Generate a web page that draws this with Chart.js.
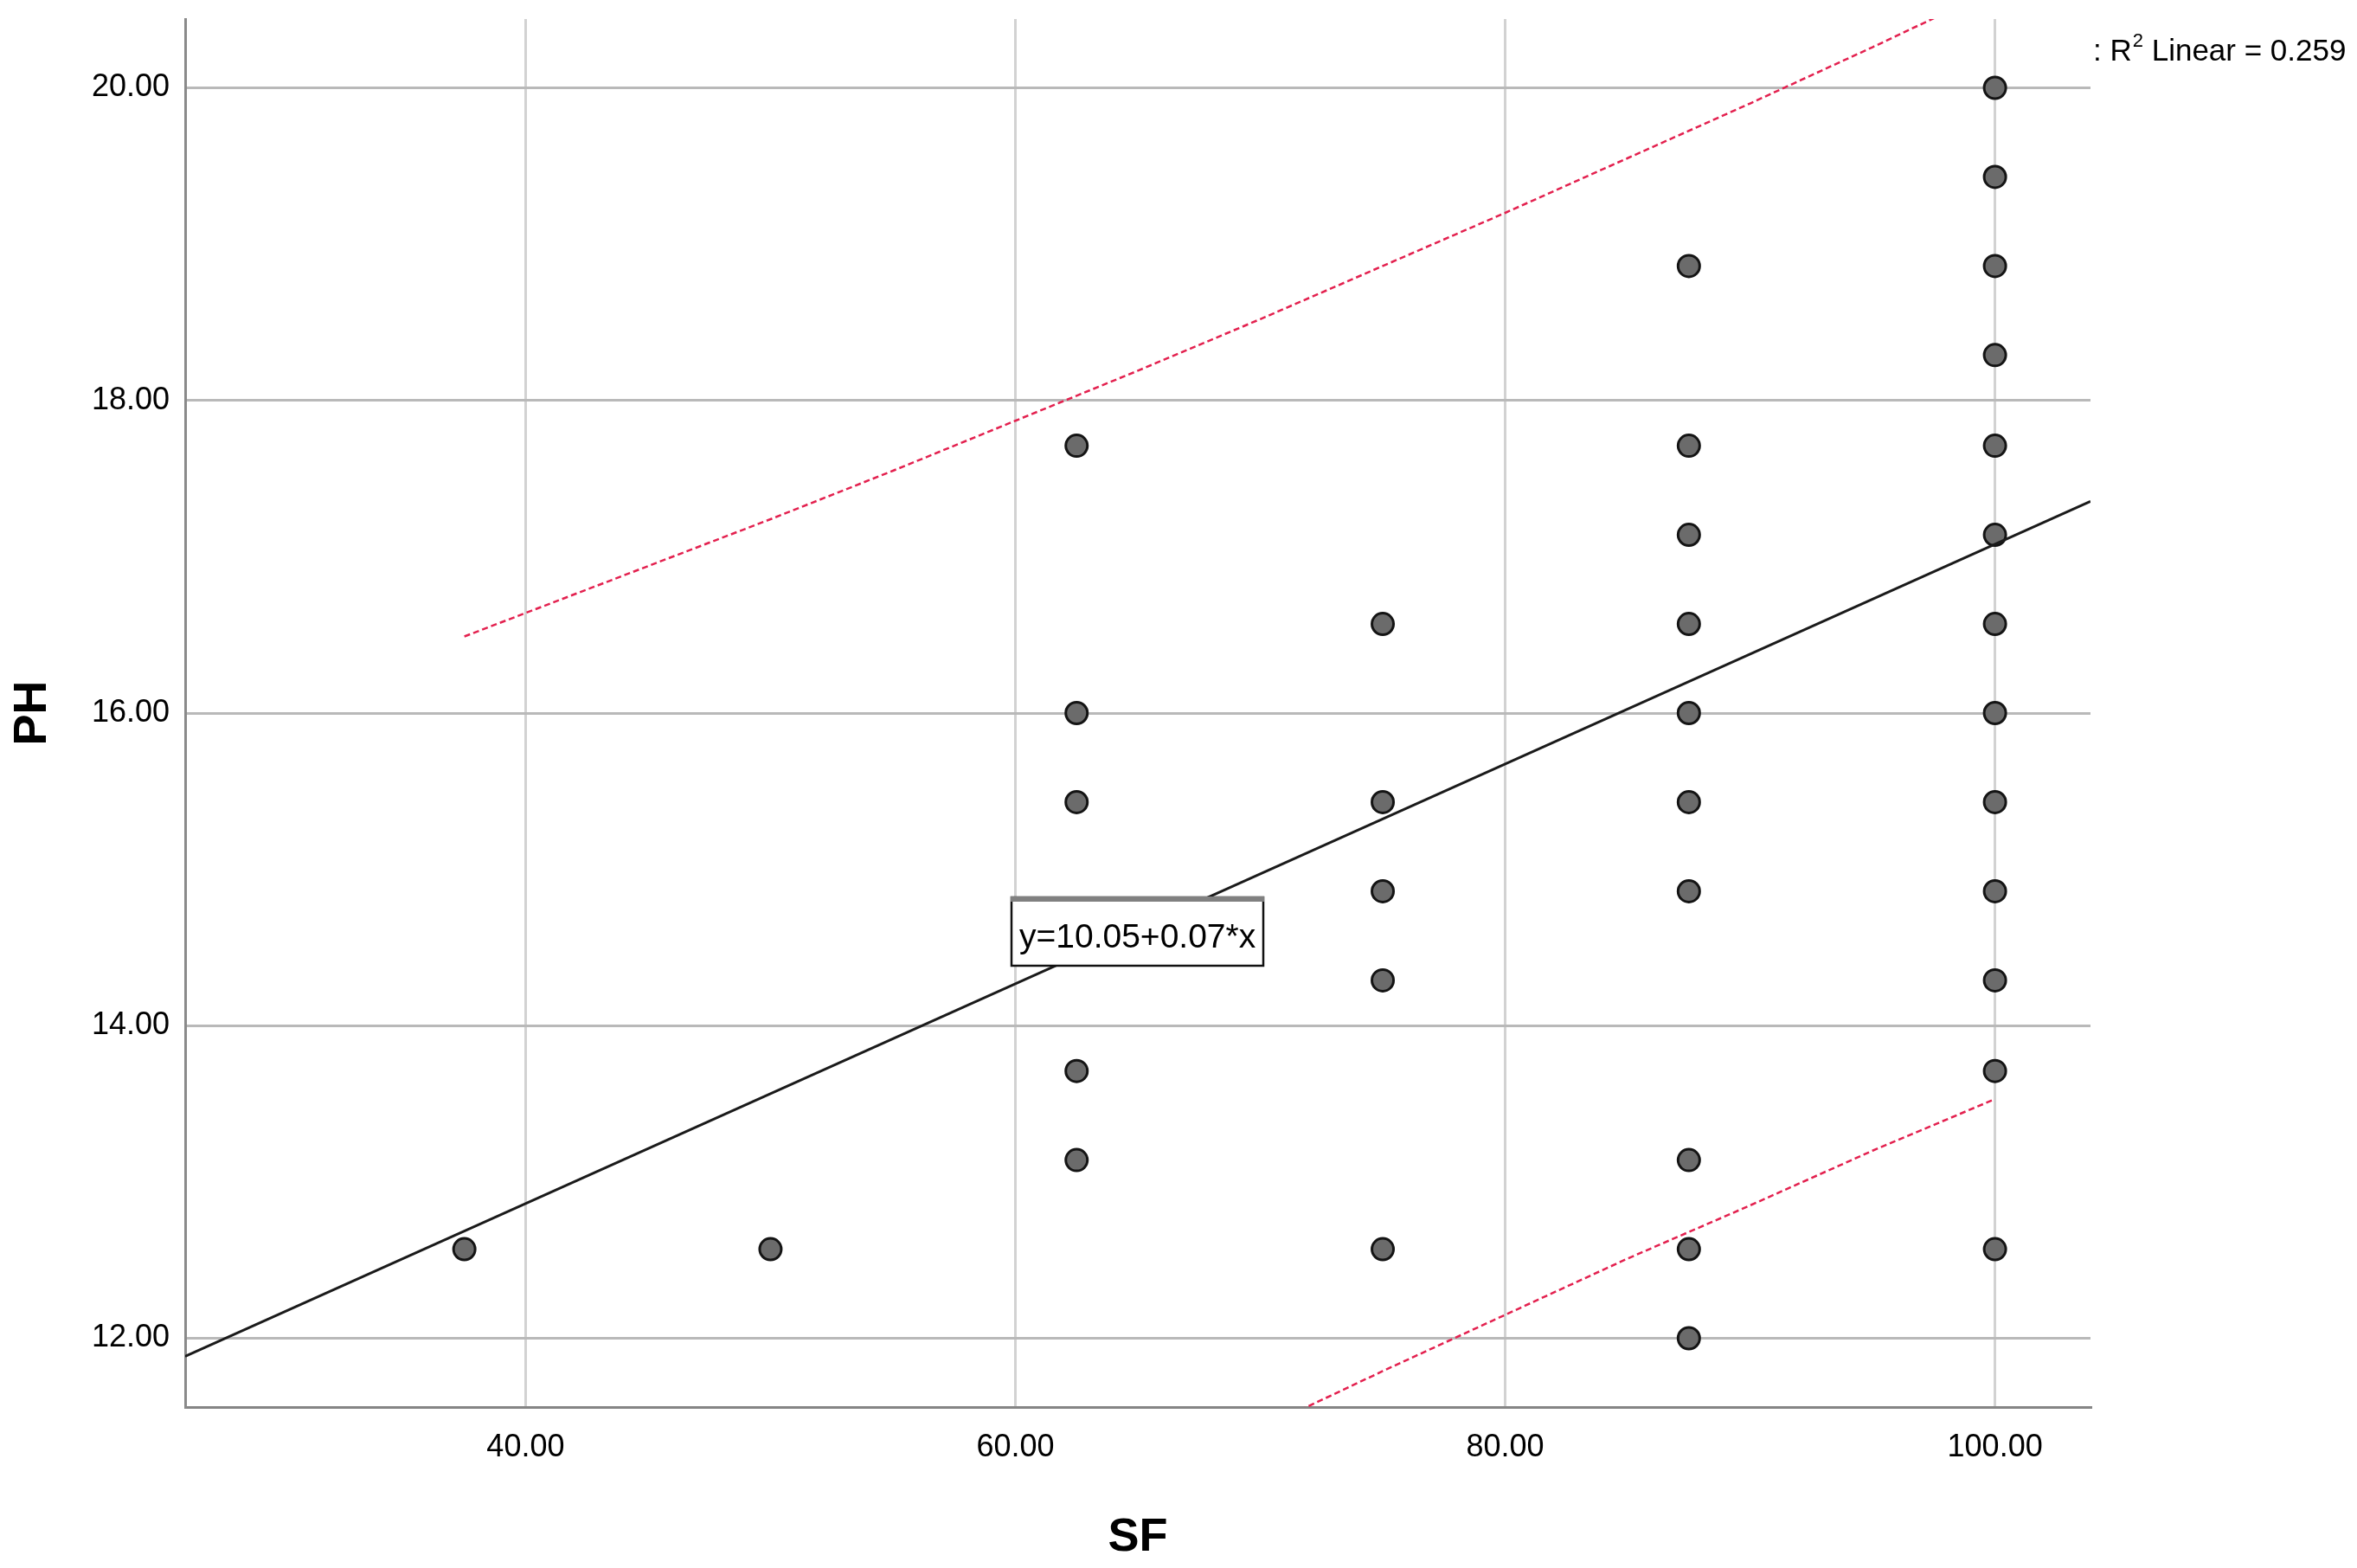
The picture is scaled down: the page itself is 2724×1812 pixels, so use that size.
<!DOCTYPE html>
<html>
<head>
<meta charset="utf-8">
<script src="https://cdn.jsdelivr.net/npm/chart.js@4.4.1/dist/chart.umd.min.js"></script>
<style>
  html, body { margin: 0; padding: 0; background: #ffffff; }
  #wrap { width: 2724px; height: 1812px; position: relative; }
  canvas { display: block; }
</style>
</head>
<body>
<div id="wrap"><canvas id="c" width="2724" height="1812"></canvas></div>
<script>
// ---- data ----
const sfValues = [
  37.5, 50,
  62.5, 62.5, 62.5, 62.5, 62.5,
  75, 75, 75, 75, 75,
  87.5, 87.5, 87.5, 87.5, 87.5, 87.5, 87.5, 87.5, 87.5, 87.5,
  100, 100, 100, 100, 100, 100, 100, 100, 100, 100, 100, 100, 100
];
const phValues = [
  12.57, 12.57,
  17.71, 16.00, 15.43, 13.71, 13.14,
  16.57, 15.43, 14.86, 14.29, 12.57,
  18.86, 17.71, 17.14, 16.57, 16.00, 15.43, 14.86, 13.14, 12.57, 12.00,
  20.00, 19.43, 18.86, 18.29, 17.71, 17.14, 16.57, 16.00, 15.43, 14.86, 14.29, 13.71, 12.57
];
const fitX = [26.1, 103.9];
const fitY = [11.885, 17.354];
const bandX = [37.5, 45, 50, 55, 60, 65, 70, 75, 80, 85, 90, 95, 100];
const bandUpper = [16.49, 16.94, 17.24, 17.55, 17.87, 18.19, 18.52, 18.86, 19.20, 19.55, 19.90, 20.26, 20.63];
const bandLower = [8.89, 9.49, 9.89, 10.28, 10.67, 11.05, 11.42, 11.79, 12.15, 12.51, 12.85, 13.20, 13.53];
const xTickValues = [40, 60, 80, 100];
const yTickValues = [12, 14, 16, 18, 20];
const xLimits = [26.1, 103.9];
const yLimits = [11.56, 20.44];
const xTitle = 'SF';
const yTitle = 'PH';
const equationLabel = 'y=10.05+0.07*x';
const r2Prefix = ': R';
const r2Sup = '2';
const r2Suffix = ' Linear = 0.259';

const FONT = '"Liberation Sans", Arial, sans-serif';

function pairs(xs, ys) { return xs.map((v, i) => ({ x: v, y: ys[i] })); }

const overlay = {
  id: 'overlay',
  afterDraw(chart) {
    const ctx = chart.ctx;
    const xs = chart.scales.x, ys = chart.scales.y, ca = chart.chartArea;
    ctx.save();
    // equation box
    ctx.font = '39px ' + FONT;
    const tw = ctx.measureText(equationLabel).width;
    const bx = Math.round(xs.getPixelForValue(59.85));
    const by = Math.round(ys.getPixelForValue(14.82));
    const bw = Math.round(tw + 18), bh = 79;
    ctx.fillStyle = '#ffffff';
    ctx.fillRect(bx, by, bw, bh);
    ctx.strokeStyle = '#111111';
    ctx.lineWidth = 2.5;
    ctx.strokeRect(bx, by, bw, bh);
    ctx.fillStyle = '#808080';
    ctx.fillRect(bx - 1, by - 1, bw + 2, 6);
    ctx.fillStyle = '#000000';
    ctx.textAlign = 'left';
    ctx.textBaseline = 'alphabetic';
    ctx.fillText(equationLabel, bx + 9, by + 58);

    // R² label
    let tx = ca.right + 3;
    const base = 70;
    ctx.font = '35px ' + FONT;
    ctx.fillText(r2Prefix, tx, base);
    tx += ctx.measureText(r2Prefix).width + 1;
    ctx.font = '22px ' + FONT;
    ctx.fillText(r2Sup, tx, base - 16);
    tx += ctx.measureText(r2Sup).width;
    ctx.font = '35px ' + FONT;
    ctx.fillText(r2Suffix, tx, base);

    // axis titles
    ctx.font = 'bold 54px ' + FONT;
    ctx.textAlign = 'center';
    ctx.textBaseline = 'middle';
    ctx.fillText(xTitle, (ca.left + ca.right) / 2, 1777);
    ctx.translate(38, (ca.top + ca.bottom) / 2);
    ctx.rotate(-Math.PI / 2);
    ctx.fillText(yTitle, 0, 0);
    ctx.restore();
  }
};

new Chart(document.getElementById('c'), {
  type: 'scatter',
  data: {
    datasets: [
      {
        label: 'upper',
        data: pairs(bandX, bandUpper),
        showLine: true,
        borderColor: '#e3214f',
        borderWidth: 2.5,
        borderDash: [7, 4],
        pointRadius: 0,
        fill: false
      },
      {
        label: 'lower',
        data: pairs(bandX, bandLower),
        showLine: true,
        borderColor: '#e3214f',
        borderWidth: 2.5,
        borderDash: [7, 4],
        pointRadius: 0,
        fill: false
      },
      {
        label: 'fit',
        data: pairs(fitX, fitY),
        showLine: true,
        borderColor: '#1a1a1a',
        borderWidth: 3,
        pointRadius: 0,
        fill: false
      },
      {
        label: 'PH',
        data: pairs(sfValues, phValues),
        pointRadius: 12.5,
        pointBorderWidth: 3,
        pointBackgroundColor: '#6b6b6b',
        pointBorderColor: '#141414',
        showLine: false
      }
    ]
  },
  options: {
    responsive: false,
    animation: false,
    events: [],
    devicePixelRatio: 1,
    layout: { padding: { left: 0, top: 22, right: 308, bottom: 0 } },
    plugins: { legend: { display: false }, tooltip: { enabled: false } },
    scales: {
      x: {
        type: 'linear',
        min: xLimits[0],
        max: xLimits[1],
        afterBuildTicks: (s) => { s.ticks = xTickValues.map(v => ({ value: v })); },
        afterFit: (s) => { s.height = 186; s.paddingLeft = 0; s.paddingRight = 0; },
        ticks: {
          font: { family: FONT, size: 36 },
          color: '#000000',
          padding: 25,
          maxRotation: 0,
          callback: (v) => Number(v).toFixed(2)
        },
        grid: { color: '#d2d2d2', lineWidth: 3, drawTicks: false },
        border: { display: true, color: '#858585', width: 3 }
      },
      y: {
        type: 'linear',
        min: yLimits[0],
        max: yLimits[1],
        afterBuildTicks: (s) => { s.ticks = yTickValues.map(v => ({ value: v })); },
        afterFit: (s) => { s.width = 214; s.paddingTop = 0; s.paddingBottom = 0; },
        ticks: {
          font: { family: FONT, size: 36 },
          color: '#000000',
          padding: 18,
          callback: (v) => Number(v).toFixed(2)
        },
        grid: { color: '#b9b9b9', lineWidth: 3, drawTicks: false },
        border: { display: true, color: '#8a8a8a', width: 3 }
      }
    }
  },
  plugins: [overlay]
});
</script>
</body>
</html>
